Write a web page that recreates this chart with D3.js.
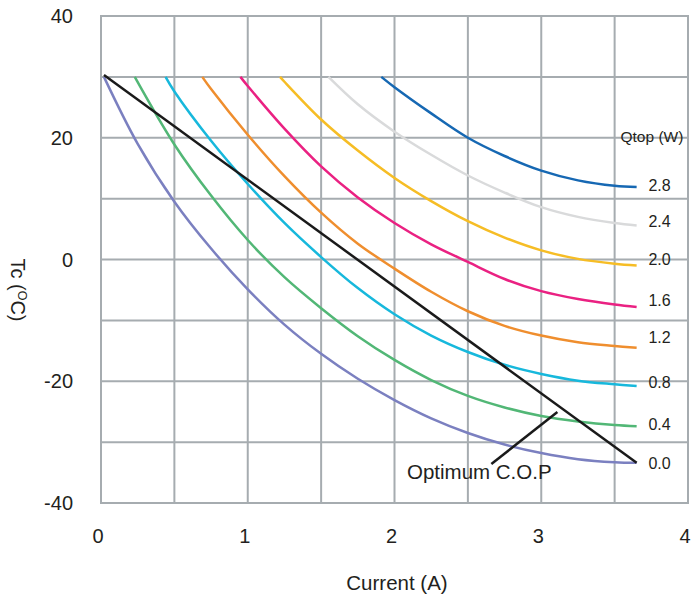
<!DOCTYPE html>
<html>
<head>
<meta charset="utf-8">
<script src="https://cdn.jsdelivr.net/npm/d3@7"></script>
<style>
  body { margin: 0; background: #fff; }
  text { font-family: "Liberation Sans", Arial, sans-serif; fill: #231f20; }
</style>
</head>
<body>
<div id="chart"></div>
<script>

// Qtop series (W) and their colours
var qtopLabels = ["0.0", "0.4", "0.8", "1.2", "1.6", "2.0", "2.4", "2.8"];
var qtopColors = ["#7b80c0", "#52b776", "#17b8dc", "#ef8e2e", "#ea2182", "#f6bd25", "#d9dadb", "#1668b3"];

// [current (A), Tc (C)]
var q00 = [[0.02, 30], [0.25, 19], [0.5, 9.5], [0.75, 1.8], [1.0, -4.9], [1.25, -10.7], [1.5, -15.5], [1.75, -19.6], [2.0, -23.1], [2.25, -26.1], [2.5, -28.5], [2.75, -30.4], [3.0, -31.8], [3.25, -32.8], [3.5, -33.3], [3.65, -33.4]];
var q04 = [[0.23, 30], [0.5, 18.9], [0.75, 10.5], [1.0, 3.2], [1.25, -2.9], [1.5, -8], [1.75, -12.6], [2.0, -16.5], [2.25, -19.8], [2.5, -22.4], [2.75, -24.3], [3.0, -25.7], [3.25, -26.6], [3.5, -27.2], [3.65, -27.4]];
var q08 = [[0.44, 30], [0.5, 27.6], [0.75, 19.5], [1.0, 12.4], [1.25, 6.0], [1.5, 0.4], [1.75, -4.7], [2.0, -9.0], [2.25, -12.5], [2.5, -15.2], [2.75, -17.3], [3.0, -18.8], [3.25, -19.9], [3.5, -20.5], [3.65, -20.8]];
var q12 = [[0.69, 30], [0.75, 28.0], [1.0, 20.5], [1.25, 13.7], [1.5, 7.7], [1.75, 2.6], [2.0, -1.5], [2.25, -5.3], [2.5, -8.5], [2.75, -10.9], [3.0, -12.5], [3.25, -13.6], [3.5, -14.2], [3.65, -14.5]];
var q16 = [[0.95, 30], [1.0, 28.5], [1.25, 21.5], [1.5, 15.3], [1.75, 10.2], [2.0, 6.0], [2.25, 2.5], [2.5, -0.4], [2.75, -3.2], [3.0, -5.2], [3.25, -6.5], [3.5, -7.4], [3.65, -7.8]];
var q20 = [[1.22, 30], [1.25, 29.2], [1.5, 23.0], [1.75, 17.9], [2.0, 13.4], [2.25, 9.6], [2.5, 6.3], [2.75, 3.6], [3.0, 1.5], [3.25, 0.1], [3.5, -0.7], [3.65, -1.0]];
var q24 = [[1.55, 30], [1.75, 25.5], [2.0, 21.0], [2.25, 17.2], [2.5, 13.8], [2.75, 11.0], [3.0, 8.6], [3.25, 7.0], [3.5, 6.0], [3.65, 5.6]];
var q28 = [[1.91, 30], [2.0, 28.3], [2.25, 24.0], [2.5, 20.0], [2.75, 17.0], [3.0, 14.6], [3.25, 13.0], [3.5, 12.1], [3.65, 11.9]];
var qtopSeries = [q00, q04, q08, q12, q16, q20, q24, q28];

// where each Qtop label sits (Tc)
var qtopLabelTc = [-33.4, -27, -20.1, -12.7, -6.7, 0.1, 6.3, 12.2];

// optimum C.O.P line and its pointer
var copLine = [[0.02, 30.3], [3.65, -33.4]];
var copPointer = [[2.66, -33.6], [3.11, -25.05]];

var xTicks = [0, 1, 2, 3, 4];
var yTicks = [-40, -20, 0, 20, 40];

function coolerChart() {

  var W = 692, H = 598;

  this.render = function () {

    var svg = d3.select("#chart").append("svg")
      .attr("width", W)
      .attr("height", H);

    var x = d3.scaleLinear().domain([0, 4]).range([101, 688]);
    var y = d3.scaleLinear().domain([-40, 40]).range([503, 16]);

    // grid ======================================
    var grid = svg.append("g").attr("stroke", "#a6acb0").attr("stroke-width", 2);
    grid.selectAll("line.v").data(d3.range(0, 4.01, 0.5)).enter().append("line")
      .attr("x1", function (d) { return x(d); })
      .attr("x2", function (d) { return x(d); })
      .attr("y1", y(40)).attr("y2", y(-40));
    grid.selectAll("line.h").data(d3.range(-40, 41, 10)).enter().append("line")
      .attr("y1", function (d) { return y(d); })
      .attr("y2", function (d) { return y(d); })
      .attr("x1", x(0) - 1).attr("x2", x(4) + 1);

    // tick labels ===============================
    svg.selectAll("text.xt").data(xTicks).enter().append("text")
      .attr("x", function (d) { return x(d) - 3; })
      .attr("y", 543)
      .attr("text-anchor", "middle")
      .style("font-size", "20px")
      .text(function (d) { return d; });

    svg.selectAll("text.yt").data(yTicks).enter().append("text")
      .attr("x", 73)
      .attr("y", function (d) { return y(d) + 7; })
      .attr("text-anchor", "end")
      .style("font-size", "20px")
      .text(function (d) { return d; });

    // axis titles ===============================
    svg.append("text")
      .attr("x", 397).attr("y", 590)
      .attr("text-anchor", "middle")
      .style("font-size", "20.5px")
      .text("Current (A)");

    var yt = svg.append("text")
      .attr("transform", "translate(11,290) rotate(90)")
      .attr("text-anchor", "middle")
      .style("font-size", "20px");
    yt.append("tspan").text("Tc  (");
    yt.append("tspan").attr("dy", -7).style("font-size", "12.5px").text("O");
    yt.append("tspan").attr("dy", 7).text("C)");

    // curves ====================================
    var line = d3.line()
      .x(function (d) { return x(d[0]); })
      .y(function (d) { return y(d[1]); })
      .curve(d3.curveCatmullRom.alpha(0.5));

    svg.selectAll("path.q").data(qtopSeries).enter().append("path")
      .attr("d", line)
      .attr("fill", "none")
      .attr("stroke", function (d, i) { return qtopColors[i]; })
      .attr("stroke-width", 2.5);

    var straight = d3.line()
      .x(function (d) { return x(d[0]); })
      .y(function (d) { return y(d[1]); });

    svg.append("path").attr("d", straight(copLine))
      .attr("fill", "none").attr("stroke", "#1a1a1a").attr("stroke-width", 2.5);
    svg.append("path").attr("d", straight(copPointer))
      .attr("fill", "none").attr("stroke", "#1a1a1a").attr("stroke-width", 2.5);

    // labels ====================================
    svg.selectAll("text.q").data(qtopLabels).enter().append("text")
      .attr("x", x(3.73))
      .attr("y", function (d, i) { return y(qtopLabelTc[i]) + 6; })
      .style("font-size", "16px")
      .text(function (d) { return d; });

    svg.append("text")
      .attr("x", x(3.54)).attr("y", y(19.3))
      .style("font-size", "15.5px")
      .text("Qtop (W)");

    svg.append("text")
      .attr("x", x(2.085)).attr("y", y(-36.1))
      .style("font-size", "20.5px")
      .text("Optimum C.O.P");
  };
}

var __chart = new coolerChart();
__chart.render();

</script>
</body>
</html>
